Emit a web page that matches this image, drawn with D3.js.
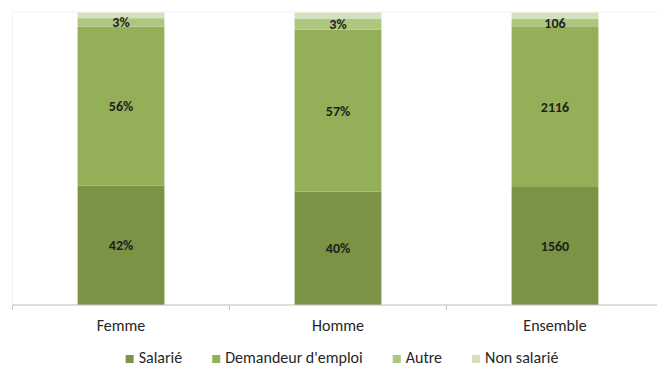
<!DOCTYPE html>
<html>
<head>
<meta charset="utf-8">
<script src="https://cdn.jsdelivr.net/npm/d3@7"></script>
<style>
  html, body { margin: 0; padding: 0; background: #fff; }
  svg { display: block; font-family: Carlito, Lato, "Open Sans", sans-serif; }
</style>
</head>
<body>
<svg id="chart" width="657" height="369"></svg>
<script>
const categories = ["Femme", "Homme", "Ensemble"];
const seriesNames = ["Salarié", "Demandeur d'emploi", "Autre", "Non salarié"];
const salarie = [42, 40, 1560];
const demandeur = [56, 57, 2116];
const autre = [3, 3.8, 106];
const nonSalarie = [2, 2.3, 85];
const salarieLabels = ["42%", "40%", "1560"];
const demandeurLabels = ["56%", "57%", "2116"];
const autreLabels = ["3%", "3%", "106"];
const nonSalarieLabels = ["", "", ""];
const colors = ["#7a9344", "#93b058", "#adc77f", "#d3e1bf"];

const keys = ["s0", "s1", "s2", "s3"];
const rows = categories.map((c, i) => ({
  cat: c, s0: salarie[i], s1: demandeur[i], s2: autre[i], s3: nonSalarie[i]
}));
const labelSets = [salarieLabels, demandeurLabels, autreLabels, nonSalarieLabels];

const svg = d3.select("#chart");
const mLeft = 12.5, mRight = 663.5, mTop = 12.5, mBottom = 305;

const x = d3.scaleBand().domain(categories).range([mLeft, mRight]).paddingInner(0.6).paddingOuter(0.3);
const y = d3.scaleLinear().domain([0, 1]).range([mBottom, mTop]);

const stack = d3.stack().keys(keys).offset(d3.stackOffsetExpand);
const series = stack(rows);

// faint plot frame
svg.append("rect").attr("x", mLeft).attr("y", mTop - 0.5).attr("width", mRight - mLeft).attr("height", mBottom - mTop + 0.5)
  .attr("fill", "none").attr("stroke", "#f3f3f3").attr("stroke-width", 1);

const g = svg.append("g");
series.forEach((s, si) => {
  g.selectAll(null).data(s).enter().append("rect")
    .attr("x", d => x(d.data.cat))
    .attr("width", x.bandwidth())
    .attr("y", d => y(d[1]))
    .attr("height", d => y(d[0]) - y(d[1]))
    .attr("fill", colors[si]);
});

// data labels
series.forEach((s, si) => {
  g.selectAll(null).data(s).enter().append("text")
    .attr("x", d => x(d.data.cat) + x.bandwidth() / 2)
    .attr("y", d => (y(d[0]) + y(d[1])) / 2 + 1.5)
    .attr("text-anchor", "middle")
    .attr("dominant-baseline", "middle")
    .attr("font-size", 14)
    .attr("font-weight", "bold")
    .attr("fill", "#1e1e1e")
    .text((d, i) => labelSets[si][i]);
});

// x axis
const axis = d3.axisBottom(x).tickSize(0).tickPadding(0);
const ax = svg.append("g").attr("transform", `translate(0,${mBottom})`).call(axis);
ax.select(".domain").remove();
ax.selectAll(".tick").remove();
ax.append("line").attr("x1", mLeft).attr("x2", 657).attr("y1", 0).attr("y2", 0)
  .attr("stroke", "#c4c4c4").attr("stroke-width", 1.2);
const bounds = [mLeft].concat(categories.map(c => x(c) - x.step() * x.paddingInner() / 2 + x.step()));
ax.selectAll(".bt").data(bounds).enter().append("line")
  .attr("x1", d => d).attr("x2", d => d).attr("y1", 0).attr("y2", 5)
  .attr("stroke", "#c4c4c4").attr("stroke-width", 1);

svg.append("g").selectAll("text").data(categories).enter().append("text")
  .attr("x", d => x(d) + x.bandwidth() / 2)
  .attr("y", 327)
  .attr("text-anchor", "middle")
  .attr("dominant-baseline", "middle")
  .attr("font-size", 16)
  .attr("fill", "#262626")
  .text(d => d);

// legend
const lg = svg.append("g");
const items = lg.selectAll("g").data(seriesNames).enter().append("g");
items.append("rect").attr("width", 8).attr("height", 8).attr("y", -4).attr("fill", (d, i) => colors[i]);
items.append("text").attr("x", 13).attr("dominant-baseline", "middle")
  .attr("font-size", 16).attr("fill", "#262626").text(d => d);
let cx = 0;
const gap = 30;
const positions = [];
items.each(function () {
  const w = this.querySelector("text").getComputedTextLength() + 13;
  positions.push(cx);
  cx += w + gap;
});
const totalW = cx - gap;
const start = 342 - totalW / 2;
items.attr("transform", (d, i) => `translate(${start + positions[i]},359)`);
</script>
</body>
</html>
